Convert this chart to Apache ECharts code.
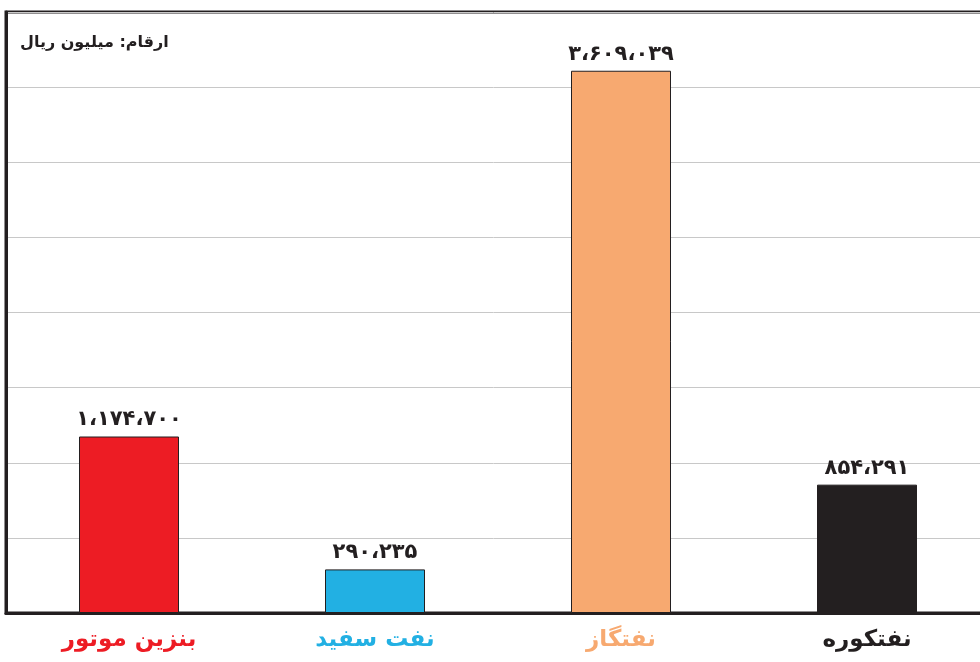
<!DOCTYPE html>
<html><head><meta charset="utf-8">
<script src="https://cdn.jsdelivr.net/npm/echarts@6/dist/echarts.min.js"></script>
<style>html,body{margin:0;padding:0;background:#fff}#c{width:980px;height:662px}</style>
</head><body><div id="c"></div>
<script>
const categories = ['بنزین موتور', 'نفت سفید', 'نفتگاز', 'نفتکوره'];
const values = [1174700, 290235, 3609039, 854291];
const barColors = ['#ED1C24', '#22B0E3', '#F7A970', '#231F20'];
const unitLabel = 'ارقام: میلیون ریال';

const faDigits = '۰۱۲۳۴۵۶۷۸۹';
function toFa(n) {
  const s = String(n).replace(/\B(?=(\d{3})+(?!\d))/g, '،');
  return s.replace(/\d/g, d => faDigits[+d]);
}

const chart = echarts.init(document.getElementById('c'));
const font = "'DejaVu Sans', sans-serif";
chart.setOption({
  animation: false,
  textStyle: { fontFamily: font },
  grid: { left: 6, width: 984, top: 12, bottom: 49, outerBoundsMode: 'none', containLabel: false, show: true, borderColor: '#231F20', borderWidth: 3, backgroundColor: 'transparent' },
  graphic: [{ type: 'text', left: 20, top: 35, style: { text: unitLabel, font: "bold 16px 'DejaVu Sans'", fill: '#231F20' } }],
  xAxis: {
    type: 'category', data: categories,
    axisLine: { show: true, lineStyle: { color: '#231F20', width: 3 } },
    axisTick: { show: false },
    axisLabel: {
      margin: 16, fontSize: 23, fontWeight: 'bold', fontFamily: font,
      color: (v, i) => barColors[i]
    }
  },
  yAxis: {
    type: 'value', min: 0, max: 4000000, interval: 500000,
    axisLabel: { show: false }, axisTick: { show: false },
    axisLine: { show: true, lineStyle: { color: '#231F20', width: 3 } },
    splitLine: { lineStyle: { color: '#C8C8C8', width: 1 } }
  },
  series: [{
    type: 'bar', barWidth: 100,
    data: values.map((v, i) => ({ value: v, itemStyle: { color: barColors[i] } })),
    itemStyle: { borderColor: '#231F20', borderWidth: 1 },
    label: {
      show: true, position: 'top', distance: 6, color: '#231F20',
      fontSize: 21, fontWeight: 'bold', fontFamily: font,
      formatter: p => toFa(p.value)
    }
  }]
});
</script></body></html>
